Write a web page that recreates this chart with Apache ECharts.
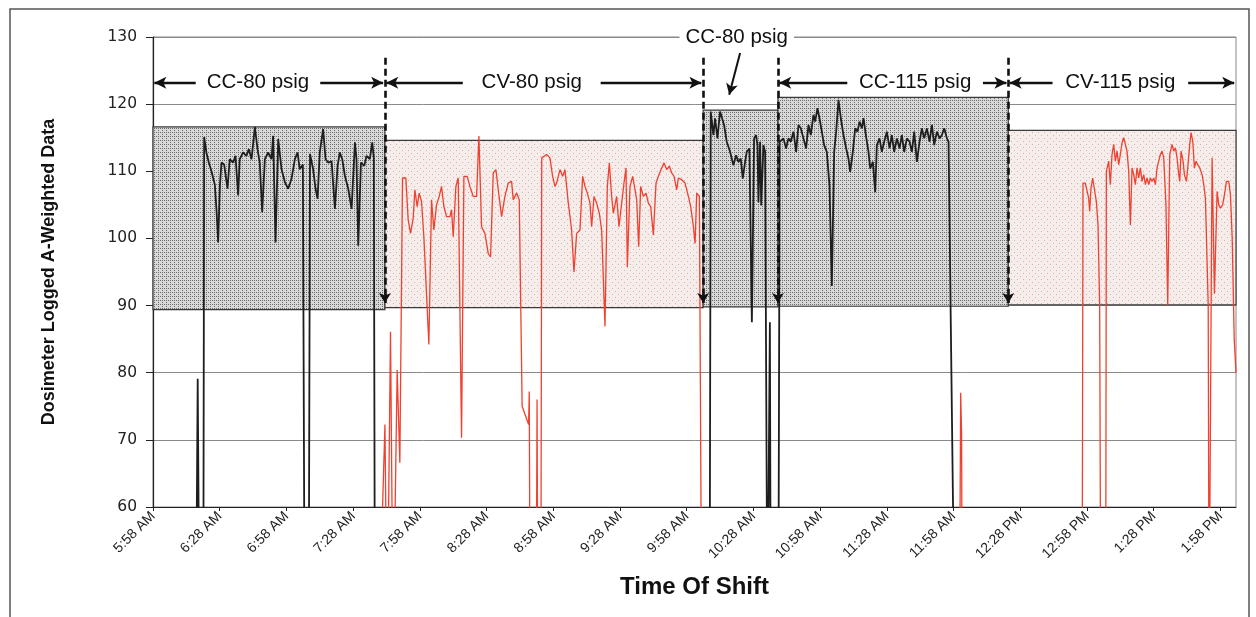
<!DOCTYPE html>
<html><head><meta charset="utf-8">
<script src="https://cdn.jsdelivr.net/npm/echarts@6/dist/echarts.min.js"></script>
<style>html,body{margin:0;padding:0;background:#fff}#c{width:1256px;height:617px}</style>
</head><body><div id="c"></div><script>
// x values are minutes after 5:58 AM
const xMax = 487;
const xInterval = 30;
const tickLabels = ['5:58 AM','6:28 AM','6:58 AM','7:28 AM','7:58 AM','8:28 AM','8:58 AM','9:28 AM','9:58 AM','10:28 AM','10:58 AM','11:28 AM','11:58 AM','12:28 PM','12:58 PM','1:28 PM','1:58 PM'];
const yMin = 60, yMax = 130, yInterval = 10;

// Constant-current (black) trace
const ccTime = [0,19.3,20.1,20.9,22.6,23.0,24.0,25.1,26.3,27.8,28.6,29.3,30.1,30.8,32.0,33.5,34.5,36.0,37.1,38.3,39.0,40.5,42.0,43.1,44.3,45.8,47.0,48.0,49.1,50.3,51.8,53.3,54.0,55.1,56.3,57.8,59.3,60.8,62.3,63.8,65.0,66.0,67.4,68.2,70.0,70.6,72.0,73.1,74.0,75.0,76.5,77.6,78.8,80.3,81.8,83.0,84.0,85.1,86.3,87.8,89.3,90.8,91.5,92.3,93.5,95.0,96.0,97.5,98.6,99.3,99.8,
250.3,250.8,252.0,252.75,253.8,255,255.75,256.8,258,259.5,261,262.2,263.25,264.3,265.2,266.25,267,268.2,269.3,270.3,271.2,271.8,272.25,273,273.5,274.5,275.25,276.3,277.0,277.4,277.8,281.2,281.8,283.5,284.7,285.75,286.8,288,289.2,290.25,291.3,292.5,293.7,294.75,295.8,297,297.75,298.8,299.7,300.75,301.8,303,304.2,305.25,306.3,307.2,308.25,309.3,310.5,311.7,312.75,313.5,314.7,315.75,316.8,317.7,318.75,319.5,320.55,321.75,322.5,323.7,324.75,325.5,326.7,327.75,328.8,330,331.2,332.25,333.3,334.5,335.7,336.75,337.8,339,340.2,341.25,342.3,343.5,344.7,345.75,346.8,348,349.2,350.25,351.3,352.5,353.7,354.75,355.8,357,357.75,360.5,487];
const ccLevel = [40,40,79.1,40,40,115.1,112.8,111.3,110,108,104,99.4,108,111.3,111,107.4,111.8,111.3,112.3,106.4,111.8,112.8,112.3,113.3,111.8,116.6,113.3,111.3,103.9,111.8,112.8,111.8,115.3,99.4,114.8,110.3,108.4,107.4,108.9,111.8,112.8,110.3,111,40,40,112.6,110.3,107.4,105.9,112.8,116.3,111.8,111.3,111.5,104.4,110.8,112.8,111.8,109.3,107.4,104.4,114.3,111.8,98.9,111.3,110.8,112.3,111.8,114.3,112,40,
40,118.9,115.4,117.9,114.9,118.9,119.15,116.9,114.4,112.9,110.9,112.4,111.4,111.9,108.9,111.4,112.9,113.4,87.5,114.9,115.4,113.9,105.4,114.4,104.9,113.9,112.9,40,40,87.5,40,40,114.4,114.9,113.4,114.9,114.4,115.9,112.9,116.9,116.4,114.9,113.4,116.9,115.4,118.4,117.4,119.4,117.9,115.9,113.9,112.9,107.9,92.9,112.9,115.9,120.65,117.9,115.4,113.4,111.9,109.9,112.9,116.4,115.9,117.4,116.4,117.9,115.4,112.9,110.4,111.4,106.9,113.9,114.9,112.9,114.4,115.9,113.4,115.4,112.9,114.9,113.4,115.4,112.9,114.9,114.4,112.9,115.9,111.4,114.4,116.4,114.9,116.4,114.4,116.9,113.9,115.9,114.9,115.4,116.4,114.9,114.4,40,40];

// Constant-volume (red) trace
const cvTime = [0,101.5,104.3,105.3,106.8,108,109.8,111,112.2,113.7,114.75,115.8,117,117.75,118.8,119.7,120.75,121.8,124.05,125.25,126.3,127.5,128.7,129.75,130.8,132,133.5,134.25,135,136.2,137.25,138.75,139.8,141.3,142.5,144,145.5,146.55,147.75,149.25,150.75,151.8,153,154.2,155.25,156.75,158.25,159.75,161.25,162,163.5,164.7,166.0,168.9,169.2,169.6,172.3,172.7,173.1,174.4,174.8,177,178.5,179.7,180.75,181.5,183,184.2,185.25,186.75,188.25,189.3,190.5,192,193.2,194.25,195.3,196.5,197.25,198.3,199.5,200.7,201.75,203.25,204.3,205.2,206.25,207,208.5,209.55,210.75,211.8,212.7,213.3,214.5,215.7,216.75,217.5,218.4,219.3,220.5,221.7,222.75,223.8,225,226.2,227.25,228.75,229.8,231,232.2,233.25,234.3,235.5,236.25,237.75,239.25,240.75,241.8,243,243.75,244.5,245.7,246.75,
362.6,363.2,363.6,363.9,417.8,418.2,419.25,420,420.75,421.2,421.8,422.55,423.3,424.2,424.95,425.7,426.2,428.4,428.7,429.75,430.5,431.25,432,432.75,433.5,434.25,435,435.75,436.5,437.25,438,438.75,439.5,440.25,441,441.75,442.5,443.25,444,444.75,445.5,446.25,447,447.75,448.5,449.25,450,450.75,451.5,452.25,453,453.75,454.5,455.5,456.3,457.2,458.25,459,459.75,460.5,461.25,461.7,462.3,463.2,463.8,464.7,465.3,466.2,466.8,467.55,468.3,469.05,469.8,470.7,471.75,472.5,473.25,474,474.5,474.9,475.5,476,476.25,477.3,478.5,479.25,480,481,481.8,482.7,483.75,484.5,485.3,486.2,487];
const cvLevel = [40,40,72.3,40,86.1,40,80.4,66.6,109,109,102.75,100.75,103,107.25,104.75,106.75,105.5,100.25,84.2,105.75,101.25,105,106.25,107.75,104.75,103.25,103.25,104.25,100.25,107.75,109,70.3,109.25,109.25,107.75,106.25,106.25,115.25,101.75,100.75,97.75,97.25,109.75,110.25,107.25,103.25,106.25,108.25,108.5,105.75,106.75,105.75,75,72.3,77.2,40,40,76,40,40,112,112.5,112,109.25,107.75,108.25,110.25,109.25,110.25,105.25,101.25,95,100.75,101.25,109.25,107.75,106.75,105.25,101.75,106.25,105.25,103.75,101.25,86.9,107.75,111.25,106.25,103.75,106.25,101.75,105.25,108.25,110.5,95.75,107.75,109.25,107.25,105.75,98.75,107.75,106.25,106.75,105.25,104.75,100.5,108.25,109.25,110.5,111.25,110.25,110.75,109.75,109.25,107.25,109,108.75,108.25,106.25,104.75,101.75,99.25,106.75,106.25,40,
40,77,71,40,40,108.25,108.25,108.5,106,104,107.5,109,109,105.5,102,90,40,40,110,111.5,108,112.5,114,111.5,113,111,112.5,114.25,115,114,113,110,102,110.5,109.5,108,110.5,109,110.5,108.5,109.5,108,109,108,109,108.5,109,108,110.5,111.5,112.5,113,112,105,90,112.5,114,113,113.5,112,109.5,108.5,113,111.5,109.5,108.5,110.5,114,115.75,114.5,110.5,111.5,111,110.5,109.5,108,106,106,90,40,40,100,112,91.75,107,105,104.5,105,106.5,108.5,108.5,106.5,100,85,80];

// Test periods (boxes + labels)
const periodNames = ['CC-80 psig','CV-80 psig','CC-80 psig','CC-115 psig','CV-115 psig'];
const periodType = ['CC','CV','CC','CC','CV'];
const periodStart = [0,104.3,247.4,281,384.6];
const periodEnd = [104.3,247.4,281,384.6,487];
const periodTop = [116.6,114.6,119.1,121.0,116.1];
const periodBottom = [89.4,89.7,89.8,89.9,90.1];
const labelCenter = [47.2,170.3,262.5,342.7,435];
const labelHalfGap = [28,31,0,30.5,30.5];
const labelRowLevel = 123.2;
const boundaryTopLevel = 126.9;
const boundaryTipLevel = 90.4;
const calloutLabelPos = [262.5, 130];
const calloutArrow = [[264, 127.6],[259.1, 121.4]];

function makePattern(bg, dot, size, pts){
  const c = document.createElement('canvas'); c.width = size; c.height = size;
  const g = c.getContext('2d'); g.fillStyle = bg; g.fillRect(0,0,size,size);
  g.fillStyle = dot; pts.forEach(p=>g.fillRect(p[0],p[1],1,1));
  return {image:c, repeat:'repeat'};
}
const ccFill = makePattern('#d8d8d8','#6e6e6e',4,[[0,0],[2,2],[2,0]]);
const cvFill = makePattern('#f6ecea','#c9b6b1',6,[[0,0],[3,3]]);

const zip = (a,b)=>a.map((v,i)=>[v,b[i]]);
const FONT = 'Liberation Sans';

const areas = periodNames.map((n,i)=>[
  {xAxis:periodStart[i], yAxis:periodTop[i], itemStyle:{color: periodType[i]==='CC'?ccFill:cvFill, borderColor:'#3a3a3a', borderWidth:1.2}},
  {xAxis:periodEnd[i], yAxis:periodBottom[i]}
]);
const boundaries = periodStart.slice(1).map(x=>[{coord:[x,boundaryTopLevel]},{coord:[x,boundaryTipLevel]}]);
const arrowIdx = [0,1,3,4];
const solid = {type:'solid', width:2.4, color:'#111'};
const hArrows = [];
arrowIdx.forEach(i=>{
  hArrows.push([{coord:[labelCenter[i]-labelHalfGap[i],labelRowLevel], lineStyle:solid, symbol:'none'},{coord:[periodStart[i]+0.6,labelRowLevel], symbol:'arrow', symbolSize:[9,12]}]);
  hArrows.push([{coord:[labelCenter[i]+labelHalfGap[i],labelRowLevel], lineStyle:solid, symbol:'none'},{coord:[periodEnd[i]-0.8,labelRowLevel], symbol:'arrow', symbolSize:[9,12]}]);
});
const labelPts = arrowIdx.map(i=>[labelCenter[i], labelRowLevel, periodNames[i]]);
labelPts.push([calloutLabelPos[0], calloutLabelPos[1], periodNames[2]]);

const chart = echarts.init(document.getElementById('c'), null, {renderer:'canvas'});
chart.setOption({
  animation:false,
  backgroundColor:'#fff',
  graphic:[{type:'rect', shape:{x:10,y:9,width:1239,height:700}, style:{fill:'none', stroke:'#555', lineWidth:1.5}, z:100}],
  grid:{left:153, top:37, right:20, bottom:110, show:true, borderColor:'#888', borderWidth:1, backgroundColor:'#fff'},
  xAxis:{type:'value', min:0, max:xMax, interval:xInterval,
    name:'Time Of Shift', nameLocation:'middle', nameGap:68,
    nameTextStyle:{fontFamily:FONT, fontWeight:'bold', fontSize:24, color:'#111'},
    axisLine:{show:true, onZero:false, lineStyle:{color:'#222', width:1.2}},
    axisTick:{show:true, length:4, lineStyle:{color:'#222'}},
    splitLine:{show:false},
    axisLabel:{rotate:45, showMaxLabel:false, margin:7, fontFamily:FONT, fontSize:14, color:'#222',
      formatter:v=>tickLabels[Math.round(v/xInterval)] || ''}
  },
  yAxis:{type:'value', min:yMin, max:yMax, interval:yInterval,
    name:'Dosimeter Logged A-Weighted Data', nameLocation:'middle', nameGap:95, nameRotate:90,
    nameTextStyle:{fontFamily:FONT, fontWeight:'bold', fontSize:18, color:'#111'},
    axisLine:{show:true, lineStyle:{color:'#222', width:1.2}},
    axisTick:{show:true, length:7, lineStyle:{color:'#222'}},
    splitLine:{show:true, lineStyle:{color:'#8a8a8a', width:1}},
    axisLabel:{margin:16, fontFamily:'DejaVu Sans', fontSize:15.5, color:'#222'}
  },
  series:[
    {type:'line', data:[], z:1, silent:true, markArea:{silent:true, z:1, data:areas}},
    {type:'line', name:'CC', data:zip(ccTime,ccLevel), showSymbol:false, symbol:'none', clip:true, z:3,
      lineStyle:{color:'#1e1e1e', width:1.8}},
    {type:'line', name:'CV', data:zip(cvTime,cvLevel), showSymbol:false, symbol:'none', clip:true, z:2,
      lineStyle:{color:'#f0402f', width:1.3}},
    {type:'line', data:[], z:4, silent:true,
      markLine:{silent:true, z:4, animation:false, label:{show:false}, data:[
        ...boundaries.map(b=>[Object.assign({}, b[0], {lineStyle:{type:[7,4], width:2.6, color:'#111'}, symbol:'none'}), Object.assign({}, b[1], {symbol:'arrow', symbolSize:[9,10]})]),
        ...hArrows,
        [{coord:calloutArrow[0], lineStyle:{type:'solid', width:2, color:'#111'}, symbol:'none'},{coord:calloutArrow[1], symbol:'arrow', symbolSize:[9,11]}]
      ]}},
    {type:'scatter', data:labelPts, z:20, zlevel:1, clip:false, silent:true, symbolSize:1, itemStyle:{color:'rgba(255,255,255,0)', opacity:1},
      label:{show:true, position:'inside', formatter:p=>p.data[2], fontFamily:FONT, fontSize:20.5, color:'#111', opacity:1, textBorderWidth:0, backgroundColor:'#ffffff', padding:[2,6]}}
  ]
});
</script></body></html>
